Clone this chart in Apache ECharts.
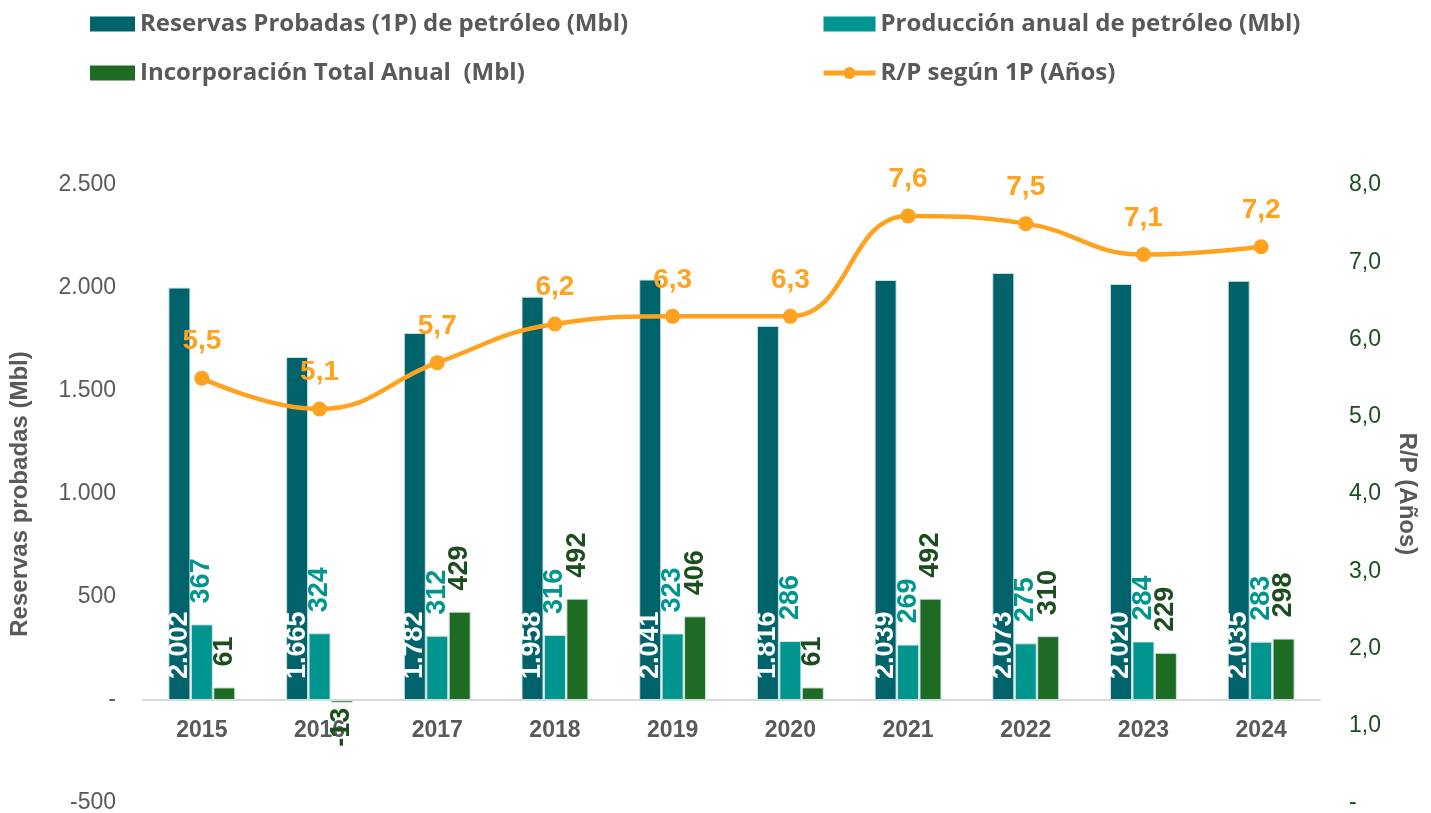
<!DOCTYPE html>
<html>
<head>
<meta charset="utf-8">
<script src="https://cdn.jsdelivr.net/npm/echarts@6/dist/echarts.min.js"></script>
<style>
  html, body { margin: 0; padding: 0; background: #fff; }
  #chart { width: 1431px; height: 813px; }
</style>
</head>
<body>
<div id="chart"></div>
<script>
var years = ['2015', '2016', '2017', '2018', '2019', '2020', '2021', '2022', '2023', '2024'];
var reservas = [2002, 1665, 1782, 1958, 2041, 1816, 2039, 2073, 2020, 2035];
var produccion = [367, 324, 312, 316, 323, 286, 269, 275, 284, 283];
var incorporacion = [61, -13, 429, 492, 406, 61, 492, 310, 229, 298];
var rp = [5.5, 5.1, 5.7, 6.2, 6.3, 6.3, 7.6, 7.5, 7.1, 7.2];

var names = [
  'Reservas Probadas (1P) de petróleo (Mbl)',
  'Producción anual de petróleo (Mbl)',
  'Incorporación Total Anual  (Mbl)',
  'R/P según 1P (Años)'
];

function miles(v) {
  var s = String(Math.abs(v)).replace(/\B(?=(\d{3})+(?!\d))/g, '.');
  return (v < 0 ? '-' : '') + s;
}

var chart = echarts.init(document.getElementById('chart'));

var legendText = { color: '#595959', fontFamily: 'Open Sans', fontWeight: 'bold', fontSize: 24 };
var barLabel = {
  show: true,
  rotate: 90,
  align: 'left',
  verticalAlign: 'middle',
  distance: 21,
  fontFamily: 'Liberation Sans',
  fontWeight: 'bold',
  fontSize: 27,
  formatter: function (p) { return miles(p.value); }
};

var option = {
  animation: false,
  color: ['#00626A', '#00968F', '#1E6B24', '#FFA21F'],
  legend: [{
    left: 85,
    top: 7,
    orient: 'vertical',
    itemGap: 25,
    itemWidth: 45,
    itemHeight: 15,
    icon: 'rect',
    itemStyle: { borderWidth: 0 },
    textStyle: legendText,
    data: [names[0], names[2]]
  }, {
    left: 816,
    top: 7,
    orient: 'vertical',
    itemGap: 25,
    itemWidth: 52,
    itemHeight: 15,
    itemStyle: { borderWidth: 0 },
    lineStyle: { width: 5 },
    textStyle: legendText,
    data: [
      { name: names[1], icon: 'rect' },
      { name: names[3] }
    ]
  }],
  grid: {
    left: 143,
    right: 111,
    top: 185,
    bottom: 10,
    outerBoundsMode: 'none'
  },
  xAxis: {
    type: 'category',
    data: years,
    position: 'bottom',
    offset: -103,
    axisLine: { onZero: false, lineStyle: { color: '#D9D9D9', width: 2 } },
    axisTick: { show: false },
    axisLabel: {
      color: '#595959',
      fontFamily: 'Liberation Sans',
      fontWeight: 'bold',
      fontSize: 23,
      margin: 19
    }
  },
  yAxis: [{
    type: 'value',
    min: -500,
    max: 2500,
    interval: 500,
    name: 'Reservas probadas (Mbl)',
    nameLocation: 'middle',
    nameGap: 111,
    nameTextStyle: {
      color: '#595959',
      fontFamily: 'Liberation Sans',
      fontWeight: 'bold',
      fontSize: 24
    },
    splitLine: { show: false },
    axisLine: { show: false },
    axisTick: { show: false },
    axisLabel: {
      color: '#595959',
      fontFamily: 'Liberation Sans',
      fontSize: 23,
      margin: 27,
      formatter: function (v) { return v === 0 ? '-' : miles(v); }
    }
  }, {
    type: 'value',
    min: 0,
    max: 8,
    interval: 1,
    name: 'R/P (Años)',
    nameLocation: 'middle',
    nameGap: 75,
    nameRotate: -90,
    nameTextStyle: {
      color: '#595959',
      fontFamily: 'Liberation Sans',
      fontWeight: 'bold',
      fontSize: 24
    },
    splitLine: { show: false },
    axisLine: { show: false },
    axisTick: { show: false },
    axisLabel: {
      color: '#1B4D1E',
      fontFamily: 'Liberation Sans',
      fontSize: 23,
      margin: 29,
      formatter: function (v) { return v === 0 ? '-' : v.toFixed(1).replace('.', ','); }
    }
  }],
  series: [{
    name: names[0],
    type: 'bar',
    barWidth: 22,
    barGap: '2%',
    data: reservas,
    itemStyle: { borderColor: '#CFE3E3', borderWidth: 1 },
    label: Object.assign({}, barLabel, { position: 'insideBottom', color: '#fff' })
  }, {
    name: names[1],
    type: 'bar',
    barWidth: 22,
    data: produccion,
    itemStyle: { borderColor: '#CFE3E3', borderWidth: 1 },
    label: Object.assign({}, barLabel, { position: 'top', color: '#00968F' })
  }, {
    name: names[2],
    type: 'bar',
    barWidth: 22,
    data: incorporacion.map(function (v) {
      if (v >= 0) return v;
      return { value: v, label: { position: 'bottom', align: 'right', distance: 5 } };
    }),
    itemStyle: { borderColor: '#CFE3E3', borderWidth: 1 },
    label: Object.assign({}, barLabel, { position: 'top', color: '#1B4D1E' })
  }, {
    name: names[3],
    type: 'line',
    yAxisIndex: 1,
    smooth: 0.45,
    data: rp,
    symbol: 'circle',
    symbolSize: 15,
    lineStyle: { width: 4.5, color: '#FFA21F' },
    itemStyle: { color: '#FFA21F' },
    label: {
      show: true,
      position: 'top',
      distance: 15,
      color: '#FFA21F',
      fontFamily: 'Liberation Sans',
      fontWeight: 'bold',
      fontSize: 28,
      formatter: function (p) { return p.value.toFixed(1).replace('.', ','); }
    }
  }]
};

chart.setOption(option);
</script>
</body>
</html>
